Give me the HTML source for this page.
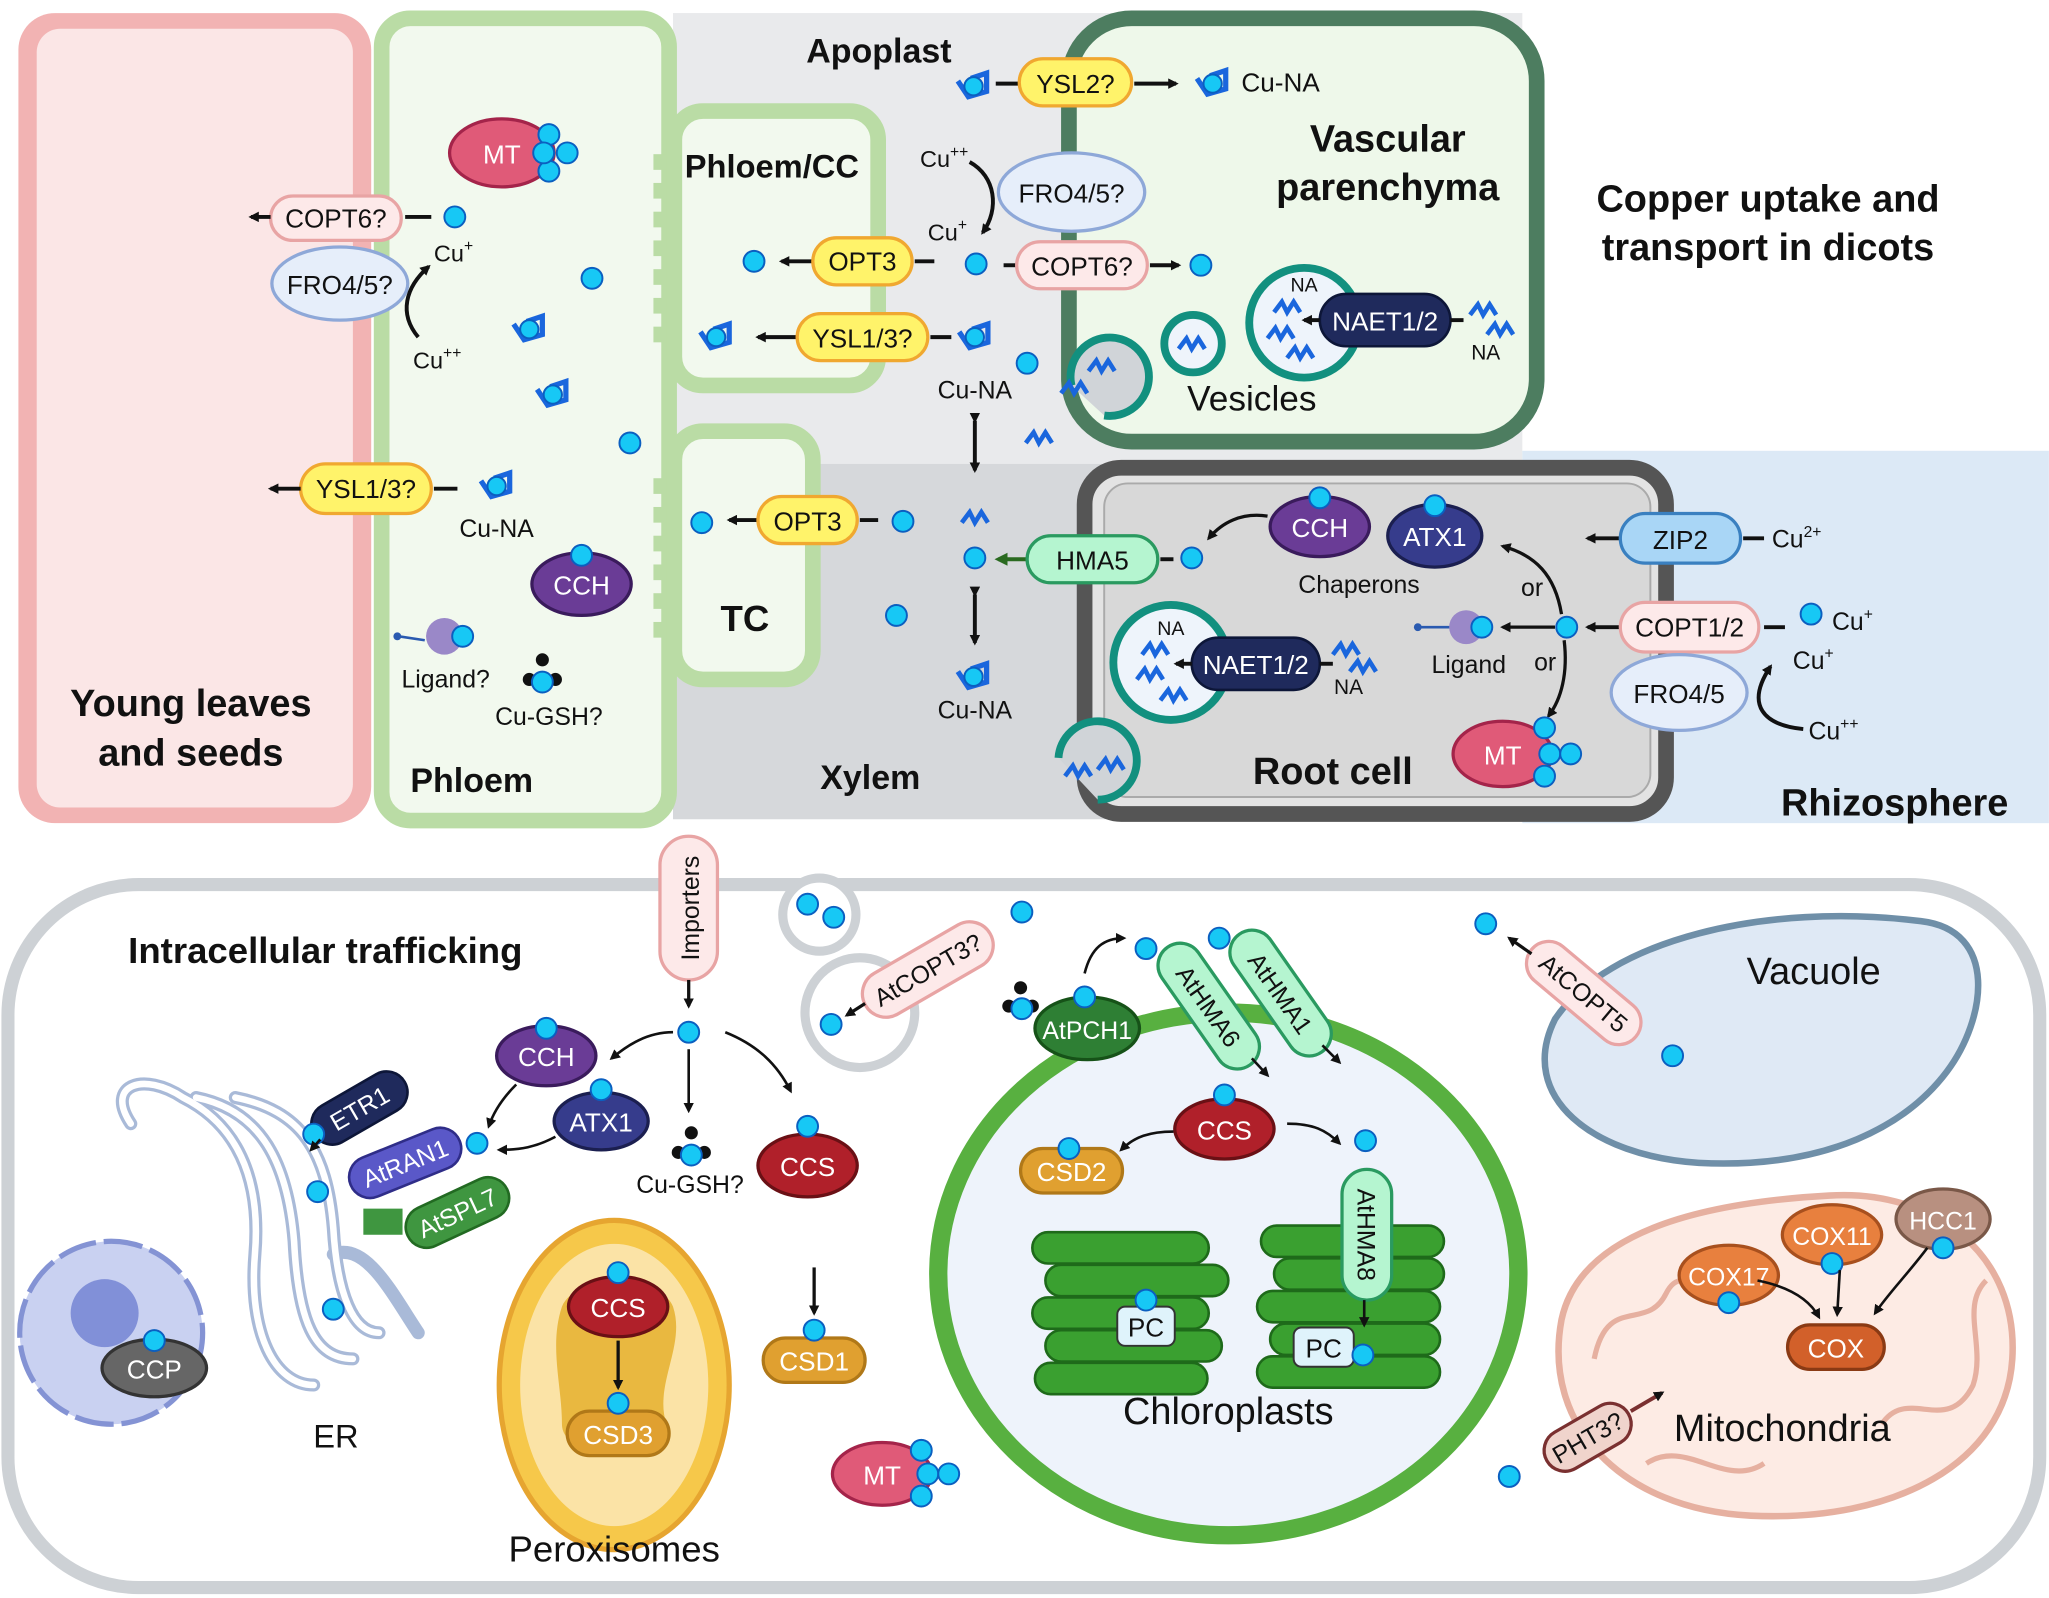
<!DOCTYPE html>
<html><head><meta charset="utf-8"><style>
html,body{margin:0;padding:0;background:#fff}
svg{display:block}
text{font-family:"Liberation Sans",Arial,sans-serif;fill:#111}
.b{font-weight:bold}
</style></head><body>
<svg width="2049" height="1598" viewBox="0 0 1568 1223" xmlns="http://www.w3.org/2000/svg">
<defs>
<marker id="ah" markerWidth="8" markerHeight="8" refX="6" refY="4" orient="auto" markerUnits="userSpaceOnUse"><path d="M0,0 L8,4 L0,8 z" fill="#111"/></marker>
<marker id="ahg" markerWidth="10" markerHeight="10" refX="7" refY="5" orient="auto" markerUnits="userSpaceOnUse"><path d="M0,0 L10,5 L0,10 z" fill="#2a6a20"/></marker>
<g id="cu"><circle r="8" fill="#17c8f5" stroke="#0b5fc0" stroke-width="1.5"/></g>
<g id="cuna"><path d="M-12,-4 L-4,8 L10,4 L10,-10 L-2,-6" fill="none" stroke="#1a66dd" stroke-width="4"/><circle cx="0" cy="0" r="7" fill="#17c8f5" stroke="#0b5fc0" stroke-width="1.5"/></g>
<g id="zz"><path d="M-10,4 L-4,-4 L0,4 L5,-4 L10,4" fill="none" stroke="#1a66dd" stroke-width="3.5"/></g>
</defs>

<!-- background regions -->
<rect x="515" y="10" width="650" height="345" fill="#e9eaec"/>
<rect x="515" y="355" width="650" height="272" fill="#d6d8db"/>
<rect x="1165" y="345" width="403" height="285" fill="#dce9f6"/>

<!-- young leaves -->
<rect x="14" y="10" width="270" height="620" rx="28" fill="#f2b3b3"/>
<rect x="28" y="22" width="242" height="596" rx="18" fill="#fbe6e6"/>
<text x="146" y="548" font-size="29" class="b" text-anchor="middle">Young leaves</text>
<text x="146" y="586" font-size="29" class="b" text-anchor="middle">and seeds</text>

<!-- phloem -->
<rect x="292" y="14" width="220" height="614" rx="22" fill="#f2f9ee" stroke="#badca5" stroke-width="12"/>
<g fill="#badca5"><rect x="500" y="118" width="20" height="12"/><rect x="500" y="140" width="20" height="12"/><rect x="500" y="162" width="20" height="12"/><rect x="500" y="184" width="20" height="12"/><rect x="500" y="206" width="20" height="12"/><rect x="500" y="228" width="20" height="12"/><rect x="500" y="250" width="20" height="12"/><rect x="500" y="366" width="20" height="12"/><rect x="500" y="388" width="20" height="12"/><rect x="500" y="410" width="20" height="12"/><rect x="500" y="432" width="20" height="12"/><rect x="500" y="454" width="20" height="12"/><rect x="500" y="476" width="20" height="12"/></g>
<text x="314" y="606" font-size="26" class="b">Phloem</text>
<!-- phloem/cc -->
<rect x="516" y="85" width="156" height="210" rx="22" fill="#f2f9ee" stroke="#badca5" stroke-width="12"/>
<text x="524" y="136" font-size="25" class="b">Phloem/CC</text>
<rect x="516" y="330" width="106" height="190" rx="22" fill="#f2f9ee" stroke="#badca5" stroke-width="12"/>
<text x="570" y="483" font-size="28" class="b" text-anchor="middle">TC</text>

<!-- vascular parenchyma -->
<rect x="818" y="14" width="358" height="324" rx="48" fill="#eef8ea" stroke="#4d7d60" stroke-width="12"/>
<text x="1062" y="116" font-size="29" class="b" text-anchor="middle">Vascular</text>
<text x="1062" y="153" font-size="29" class="b" text-anchor="middle">parenchyma</text>
<text x="617" y="48" font-size="26" class="b">Apoplast</text>
<text x="1353" y="162" font-size="29" class="b" text-anchor="middle">Copper uptake and</text>
<text x="1353" y="199" font-size="29" class="b" text-anchor="middle">transport in dicots</text>
<text x="666" y="604" font-size="26" class="b" text-anchor="middle">Xylem</text>
<text x="1450" y="624" font-size="29" class="b" text-anchor="middle">Rhizosphere</text>

<!-- root cell -->
<rect x="830" y="358" width="445" height="265" rx="28" fill="#e3e3e3" stroke="#555" stroke-width="12"/>
<rect x="845" y="370" width="418" height="240" rx="18" fill="#d8d8d8" stroke="#aaa" stroke-width="1.5"/>
<text x="1020" y="600" font-size="29" class="b" text-anchor="middle">Root cell</text>

<!-- vesicles in vascular parenchyma -->
<circle cx="998" cy="247" r="42" fill="#eef4fb" stroke="#12907f" stroke-width="6"/>
<circle cx="913" cy="263" r="22" fill="#eef4fb" stroke="#12907f" stroke-width="6"/>
<use href="#zz" x="912" y="263"/>
<path d="M820,295 A30,30 0 1 1 845,318" fill="#d0d4d8" stroke="#12907f" stroke-width="6"/>
<use href="#zz" x="843" y="280"/><use href="#zz" x="822" y="297"/>
<text x="958" y="314" font-size="27" text-anchor="middle">Vesicles</text>
<text x="998" y="223" font-size="15" text-anchor="middle">NA</text>
<use href="#zz" x="985" y="235"/><use href="#zz" x="980" y="255"/><use href="#zz" x="995" y="270"/>
<rect x="1010" y="225" width="100" height="40" rx="20" fill="#1f2a5c" stroke="#0d1638" stroke-width="2"/>
<text x="1060" y="253" font-size="20" text-anchor="middle" style="fill:#fff">NAET1/2</text>
<path d="M1010,245 L998,245" stroke="#111" stroke-width="3" marker-end="url(#ah)"/>
<line x1="1110" y1="245" x2="1120" y2="245" stroke="#111" stroke-width="3"/>
<use href="#zz" x="1135" y="237"/><use href="#zz" x="1148" y="252"/>
<text x="1137" y="275" font-size="16" text-anchor="middle">NA</text>

<!-- root cell vesicle -->
<circle cx="896" cy="507" r="44" fill="#eef4fb" stroke="#12907f" stroke-width="6"/>
<text x="896" y="486" font-size="15" text-anchor="middle">NA</text>
<use href="#zz" x="884" y="497"/><use href="#zz" x="880" y="516"/><use href="#zz" x="898" y="532"/>
<rect x="912" y="488" width="98" height="40" rx="20" fill="#1f2a5c" stroke="#0d1638" stroke-width="2"/>
<text x="961" y="516" font-size="20" text-anchor="middle" style="fill:#fff">NAET1/2</text>
<path d="M912,508 L900,508" stroke="#111" stroke-width="3" marker-end="url(#ah)"/>
<line x1="1010" y1="508" x2="1020" y2="508" stroke="#111" stroke-width="3"/>
<use href="#zz" x="1030" y="497"/><use href="#zz" x="1043" y="510"/>
<text x="1032" y="531" font-size="16" text-anchor="middle">NA</text>
<path d="M810,580 A30,30 0 1 1 840,612" fill="#d0d4d8" stroke="#12907f" stroke-width="6"/>
<use href="#zz" x="850" y="585"/><use href="#zz" x="825" y="590"/>

<!-- Left side young/phloem content -->
<rect x="207" y="150" width="100" height="34" rx="17" fill="#fde9e9" stroke="#e8a4a4" stroke-width="2.5"/>
<text x="257" y="174" font-size="20" text-anchor="middle">COPT6?</text>
<line x1="207" y1="166" x2="192" y2="166" stroke="#111" stroke-width="3" marker-end="url(#ah)"/>
<line x1="310" y1="166" x2="330" y2="166" stroke="#111" stroke-width="3"/>
<use href="#cu" x="348" y="166"/>
<ellipse cx="260" cy="217" rx="52" ry="28" fill="#e6eefa" stroke="#8ea8d8" stroke-width="2.5"/>
<text x="260" y="225" font-size="20" text-anchor="middle">FRO4/5?</text>
<text x="332" y="200" font-size="18">Cu<tspan dy="-8" font-size="12">+</tspan></text>
<text x="316" y="282" font-size="18">Cu<tspan dy="-8" font-size="12">++</tspan></text>
<path d="M320,258 C305,240 310,220 328,204" fill="none" stroke="#111" stroke-width="3" marker-end="url(#ah)"/>
<ellipse cx="384" cy="117" rx="40" ry="26" fill="#e05a78" stroke="#a4244a" stroke-width="2.5"/>
<text x="384" y="125" font-size="20" text-anchor="middle" style="fill:#fff">MT</text>
<use href="#cu" x="420" y="103"/><use href="#cu" x="434" y="117"/><use href="#cu" x="420" y="131"/><use href="#cu" x="416" y="117"/>
<use href="#cu" x="453" y="213"/><use href="#cuna" x="405" y="252"/><use href="#cuna" x="423" y="302"/><use href="#cu" x="482" y="339"/>
<rect x="230" y="355" width="100" height="38" rx="19" fill="#fff36a" stroke="#f0a830" stroke-width="2.5"/>
<text x="280" y="381" font-size="20" text-anchor="middle">YSL1/3?</text>
<line x1="230" y1="374" x2="207" y2="374" stroke="#111" stroke-width="3" marker-end="url(#ah)"/>
<line x1="332" y1="374" x2="350" y2="374" stroke="#111" stroke-width="3"/>
<use href="#cuna" x="380" y="372"/>
<text x="380" y="411" font-size="19" text-anchor="middle">Cu-NA</text>
<ellipse cx="445" cy="447" rx="38" ry="24" fill="#6a3c96" stroke="#3a1b5c" stroke-width="2.5"/>
<text x="445" y="455" font-size="20" text-anchor="middle" style="fill:#fff">CCH</text>
<use href="#cu" x="445" y="425"/>
<line x1="305" y1="487" x2="325" y2="490" stroke="#2a5ab0" stroke-width="2"/><circle cx="304" cy="487" r="3" fill="#2a5ab0"/>
<circle cx="340" cy="487" r="14" fill="#9a88c8"/><use href="#cu" x="354" y="487"/>
<text x="341" y="526" font-size="19" text-anchor="middle">Ligand?</text>
<g fill="#111"><circle cx="405" cy="520" r="5"/><circle cx="425" cy="520" r="5"/><circle cx="415" cy="505" r="5"/></g><use href="#cu" x="415" y="522"/>
<text x="420" y="555" font-size="19" text-anchor="middle">Cu-GSH?</text>

<!-- Phloem/CC region -->
<use href="#cu" x="577" y="200"/>
<line x1="622" y1="200" x2="598" y2="200" stroke="#111" stroke-width="3" marker-end="url(#ah)"/>
<rect x="622" y="182" width="76" height="36" rx="18" fill="#fff36a" stroke="#f0a830" stroke-width="2.5"/>
<text x="660" y="207" font-size="20" text-anchor="middle">OPT3</text>
<line x1="700" y1="200" x2="715" y2="200" stroke="#111" stroke-width="3"/>
<use href="#cu" x="747" y="202"/>
<use href="#cuna" x="548" y="258"/>
<line x1="610" y1="258" x2="580" y2="258" stroke="#111" stroke-width="3" marker-end="url(#ah)"/>
<rect x="610" y="240" width="100" height="36" rx="18" fill="#fff36a" stroke="#f0a830" stroke-width="2.5"/>
<text x="660" y="266" font-size="20" text-anchor="middle">YSL1/3?</text>
<line x1="712" y1="258" x2="728" y2="258" stroke="#111" stroke-width="3"/>
<use href="#cuna" x="746" y="258"/>
<use href="#cu" x="786" y="278"/>
<text x="746" y="305" font-size="19" text-anchor="middle">Cu-NA</text>
<path d="M746,322 L746,360" stroke="#111" stroke-width="3" marker-start="url(#ah)" marker-end="url(#ah)"/>
<use href="#zz" x="795" y="335"/>
<text x="704" y="128" font-size="18">Cu<tspan dy="-8" font-size="12">++</tspan></text>
<text x="710" y="184" font-size="18">Cu<tspan dy="-8" font-size="12">+</tspan></text>
<path d="M742,124 C762,135 765,160 752,178" fill="none" stroke="#111" stroke-width="3" marker-end="url(#ah)"/>
<ellipse cx="820" cy="147" rx="56" ry="30" fill="#e6eefa" stroke="#8ea8d8" stroke-width="2.5"/>
<text x="820" y="155" font-size="20" text-anchor="middle">FRO4/5?</text>
<line x1="768" y1="203" x2="778" y2="203" stroke="#111" stroke-width="3"/>
<rect x="778" y="185" width="100" height="36" rx="18" fill="#fde9e9" stroke="#e8a4a4" stroke-width="2.5"/>
<text x="828" y="211" font-size="20" text-anchor="middle">COPT6?</text>
<line x1="880" y1="203" x2="902" y2="203" stroke="#111" stroke-width="3" marker-end="url(#ah)"/>
<use href="#cu" x="919" y="203"/>
<use href="#cuna" x="745" y="66"/>
<line x1="762" y1="64" x2="780" y2="64" stroke="#111" stroke-width="3"/>
<rect x="780" y="45" width="86" height="36" rx="18" fill="#fff36a" stroke="#f0a830" stroke-width="2.5"/>
<text x="823" y="71" font-size="20" text-anchor="middle">YSL2?</text>
<line x1="868" y1="64" x2="900" y2="64" stroke="#111" stroke-width="3" marker-end="url(#ah)"/>
<use href="#cuna" x="928" y="64"/>
<text x="950" y="70" font-size="20">Cu-NA</text>

<!-- TC/xylem -->
<use href="#cu" x="537" y="400"/>
<line x1="580" y1="398" x2="558" y2="398" stroke="#111" stroke-width="3" marker-end="url(#ah)"/>
<rect x="580" y="380" width="76" height="36" rx="18" fill="#fff36a" stroke="#f0a830" stroke-width="2.5"/>
<text x="618" y="406" font-size="20" text-anchor="middle">OPT3</text>
<line x1="658" y1="398" x2="672" y2="398" stroke="#111" stroke-width="3"/>
<use href="#cu" x="691" y="399"/>
<use href="#zz" x="746" y="396"/>
<use href="#cu" x="746" y="427"/>
<line x1="786" y1="428" x2="764" y2="428" stroke="#2a6a20" stroke-width="3" marker-end="url(#ahg)"/>
<rect x="786" y="410" width="100" height="36" rx="18" fill="#b5f5d0" stroke="#2a9a60" stroke-width="2.5"/>
<text x="836" y="436" font-size="20" text-anchor="middle">HMA5</text>
<line x1="888" y1="428" x2="898" y2="428" stroke="#111" stroke-width="3"/>
<use href="#cu" x="912" y="427"/>
<use href="#cu" x="686" y="471"/>
<path d="M746,455 L746,492" stroke="#111" stroke-width="3" marker-start="url(#ah)" marker-end="url(#ah)"/>
<use href="#cuna" x="745" y="518"/>
<text x="746" y="550" font-size="19" text-anchor="middle">Cu-NA</text>

<!-- root cell contents -->
<ellipse cx="1010" cy="403" rx="38" ry="23" fill="#6a3c96" stroke="#3a1b5c" stroke-width="2.5"/>
<text x="1010" y="411" font-size="20" text-anchor="middle" style="fill:#fff">CCH</text><use href="#cu" x="1010" y="381"/>
<ellipse cx="1098" cy="410" rx="36" ry="24" fill="#363c8c" stroke="#1b1f50" stroke-width="2.5"/>
<text x="1098" y="418" font-size="20" text-anchor="middle" style="fill:#fff">ATX1</text><use href="#cu" x="1098" y="387"/>
<text x="1040" y="454" font-size="19" text-anchor="middle">Chaperons</text>
<path d="M970,395 C950,392 935,400 925,412" fill="none" stroke="#111" stroke-width="2.5" marker-end="url(#ah)"/>
<path d="M1195,470 C1190,440 1175,425 1150,418" fill="none" stroke="#111" stroke-width="2.5" marker-end="url(#ah)"/>
<text x="1164" y="456" font-size="19">or</text>
<use href="#cu" x="1199" y="480"/>
<path d="M1190,480 L1150,480" fill="none" stroke="#111" stroke-width="2.5" marker-end="url(#ah)"/>
<line x1="1085" y1="480" x2="1110" y2="480" stroke="#2a5ab0" stroke-width="2"/><circle cx="1085" cy="480" r="3" fill="#2a5ab0"/>
<circle cx="1122" cy="480" r="13" fill="#9a88c8"/><use href="#cu" x="1134" y="480"/>
<text x="1124" y="515" font-size="19" text-anchor="middle">Ligand</text>
<text x="1174" y="513" font-size="19">or</text>
<path d="M1197,490 C1200,515 1195,535 1185,548" fill="none" stroke="#111" stroke-width="2.5" marker-end="url(#ah)"/>
<ellipse cx="1150" cy="577" rx="38" ry="25" fill="#e05a78" stroke="#a4244a" stroke-width="2.5"/>
<text x="1150" y="585" font-size="20" text-anchor="middle" style="fill:#fff">MT</text>
<use href="#cu" x="1182" y="557"/><use href="#cu" x="1186" y="577"/><use href="#cu" x="1202" y="577"/><use href="#cu" x="1182" y="594"/>
<line x1="1240" y1="412" x2="1215" y2="412" stroke="#111" stroke-width="3" marker-end="url(#ah)"/>
<rect x="1240" y="393" width="92" height="38" rx="19" fill="#a9d6f6" stroke="#3a80c0" stroke-width="2.5"/>
<text x="1286" y="420" font-size="20" text-anchor="middle">ZIP2</text>
<line x1="1334" y1="412" x2="1350" y2="412" stroke="#111" stroke-width="3"/>
<text x="1356" y="419" font-size="19">Cu<tspan dy="-8" font-size="12">2+</tspan></text>
<line x1="1240" y1="480" x2="1215" y2="480" stroke="#111" stroke-width="3" marker-end="url(#ah)"/>
<rect x="1240" y="461" width="106" height="38" rx="19" fill="#fde9e9" stroke="#e8a4a4" stroke-width="2.5"/>
<text x="1293" y="487" font-size="20" text-anchor="middle">COPT1/2</text>
<line x1="1350" y1="480" x2="1366" y2="480" stroke="#111" stroke-width="3"/>
<use href="#cu" x="1386" y="470"/>
<text x="1402" y="482" font-size="19">Cu<tspan dy="-8" font-size="12">+</tspan></text>
<text x="1372" y="512" font-size="19">Cu<tspan dy="-8" font-size="12">+</tspan></text>
<ellipse cx="1285" cy="530" rx="52" ry="29" fill="#e6eefa" stroke="#8ea8d8" stroke-width="2.5"/>
<text x="1285" y="538" font-size="20" text-anchor="middle">FRO4/5</text>
<path d="M1380,558 C1350,555 1335,540 1355,510" fill="none" stroke="#111" stroke-width="3" marker-end="url(#ah)"/>
<text x="1384" y="566" font-size="19">Cu<tspan dy="-8" font-size="12">++</tspan></text>

<!-- bottom cell -->
<rect x="6" y="677" width="1555" height="538" rx="100" fill="#fff" stroke="#cdd1d5" stroke-width="10"/>
<text x="98" y="737" font-size="28" class="b">Intracellular trafficking</text>
<rect x="505" y="640" width="44" height="110" rx="22" fill="#fde9e9" stroke="#e8a4a4" stroke-width="2.5"/>
<text transform="translate(535,695) rotate(-90)" font-size="19" text-anchor="middle">Importers</text>
<line x1="527" y1="750" x2="527" y2="770" stroke="#111" stroke-width="2.5" marker-end="url(#ah)"/>
<use href="#cu" x="527" y="790"/>
<path d="M515,790 C495,790 480,800 468,810" fill="none" stroke="#111" stroke-width="2" marker-end="url(#ah)"/>
<line x1="527" y1="803" x2="527" y2="850" stroke="#111" stroke-width="2" marker-end="url(#ah)"/>
<path d="M555,790 C580,800 595,815 605,835" fill="none" stroke="#111" stroke-width="2" marker-end="url(#ah)"/>
<g fill="#111"><circle cx="519" cy="882" r="5"/><circle cx="539" cy="882" r="5"/><circle cx="529" cy="867" r="5"/></g><use href="#cu" x="529" y="884"/>
<text x="528" y="913" font-size="19" text-anchor="middle">Cu-GSH?</text>
<!-- vesicles at top -->
<circle cx="627" cy="700" r="28" fill="#fff" stroke="#cdd1d5" stroke-width="7"/>
<use href="#cu" x="618" y="692"/><use href="#cu" x="638" y="702"/>
<circle cx="658" cy="775" r="42" fill="#fff" stroke="#cdd1d5" stroke-width="7"/>
<use href="#cu" x="636" y="784"/>
<g transform="translate(710,742) rotate(-30)"><rect x="-55" y="-18" width="110" height="36" rx="18" fill="#fde9e9" stroke="#e8a4a4" stroke-width="2.5"/><text y="7" font-size="19" text-anchor="middle">AtCOPT3?</text></g>
<line x1="662" y1="768" x2="648" y2="777" stroke="#111" stroke-width="2.5" marker-end="url(#ah)"/>
<use href="#cu" x="782" y="698"/>
<!-- chaperones bottom -->
<ellipse cx="418" cy="808" rx="38" ry="23" fill="#6a3c96" stroke="#3a1b5c" stroke-width="2.5"/><text x="418" y="816" font-size="20" text-anchor="middle" style="fill:#fff">CCH</text><use href="#cu" x="418" y="787"/>
<ellipse cx="460" cy="858" rx="36" ry="22" fill="#363c8c" stroke="#1b1f50" stroke-width="2.5"/><text x="460" y="866" font-size="20" text-anchor="middle" style="fill:#fff">ATX1</text><use href="#cu" x="460" y="834"/>
<path d="M395,830 C385,840 378,850 374,862" fill="none" stroke="#111" stroke-width="2" marker-end="url(#ah)"/>
<path d="M425,870 C410,878 398,880 382,880" fill="none" stroke="#111" stroke-width="2" marker-end="url(#ah)"/>
<use href="#cu" x="365" y="875"/>
<ellipse cx="618" cy="892" rx="38" ry="24" fill="#b0202a" stroke="#6a1015" stroke-width="2.5"/><text x="618" y="900" font-size="20" text-anchor="middle" style="fill:#fff">CCS</text><use href="#cu" x="618" y="862"/>
<line x1="623" y1="970" x2="623" y2="1005" stroke="#111" stroke-width="2.5" marker-end="url(#ah)"/>
<rect x="584" y="1024" width="78" height="34" rx="17" fill="#e0a030" stroke="#b07818" stroke-width="2.5"/><text x="623" y="1049" font-size="20" text-anchor="middle" style="fill:#fff">CSD1</text><use href="#cu" x="623" y="1018"/>
<ellipse cx="675" cy="1128" rx="38" ry="24" fill="#e05a78" stroke="#a4244a" stroke-width="2.5"/><text x="675" y="1136" font-size="20" text-anchor="middle" style="fill:#fff">MT</text>
<use href="#cu" x="705" y="1110"/><use href="#cu" x="710" y="1128"/><use href="#cu" x="726" y="1128"/><use href="#cu" x="705" y="1145"/>

<!-- ER and nucleus -->
<g fill="none" stroke="#a9bad8" stroke-width="10" stroke-linecap="round">
<path d="M100,860 C80,830 110,820 140,840 C180,860 200,900 195,960 C190,1020 210,1060 240,1060"/>
<path d="M150,840 C200,850 220,890 225,950 C228,1010 240,1040 270,1040"/>
<path d="M180,840 C230,850 250,880 255,940 C258,990 270,1020 290,1020"/>
<path d="M255,960 C280,950 300,990 320,1020"/>
</g>
<g fill="none" stroke="#fff" stroke-width="5" stroke-linecap="round">
<path d="M100,860 C80,830 110,820 140,840 C180,860 200,900 195,960 C190,1020 210,1060 240,1060"/>
<path d="M150,840 C200,850 220,890 225,950 C228,1010 240,1040 270,1040"/>
<path d="M180,840 C230,850 250,880 255,940 C258,990 270,1020 290,1020"/>
</g>
<circle cx="85" cy="1020" r="70" fill="#c9d1f1" stroke="#8493d4" stroke-width="4" stroke-dasharray="30 6"/>
<circle cx="80" cy="1005" r="26" fill="#8190d8"/>
<ellipse cx="118" cy="1047" rx="40" ry="22" fill="#666" stroke="#333" stroke-width="2.5"/><text x="118" y="1055" font-size="20" text-anchor="middle" style="fill:#fff">CCP</text><use href="#cu" x="118" y="1026"/>
<text x="257" y="1108" font-size="25" text-anchor="middle">ER</text>
<use href="#cu" x="255" y="1002"/>
<g transform="translate(275,848) rotate(-30)"><rect x="-40" y="-16" width="80" height="32" rx="16" fill="#1f2a5c" stroke="#0d1638" stroke-width="2"/><text y="7" font-size="19" text-anchor="middle" style="fill:#fff">ETR1</text></g>
<g transform="translate(310,890) rotate(-22)"><rect x="-45" y="-16" width="90" height="32" rx="16" fill="#5a58c8" stroke="#2f2d88" stroke-width="2"/><text y="7" font-size="19" text-anchor="middle" style="fill:#fff">AtRAN1</text></g>
<g transform="translate(350,928) rotate(-25)"><rect x="-42" y="-16" width="84" height="32" rx="16" fill="#3f9640" stroke="#226a22" stroke-width="2"/><text y="7" font-size="19" text-anchor="middle" style="fill:#fff">AtSPL7</text></g>
<rect x="278" y="925" width="30" height="20" fill="#3f9640"/>
<use href="#cu" x="240" y="868"/><use href="#cu" x="243" y="912"/>
<path d="M245,872 L238,880" stroke="#111" stroke-width="2" marker-end="url(#ah)"/>

<!-- peroxisome -->
<ellipse cx="470" cy="1060" rx="88" ry="126" fill="#f6c84a" stroke="#e6a530" stroke-width="4"/>
<ellipse cx="470" cy="1060" rx="72" ry="108" fill="#fbe3a6"/>
<path d="M430,1000 C440,975 505,975 515,1000 C525,1030 500,1060 510,1090 C515,1120 430,1120 430,1090 C430,1060 420,1030 430,1000z" fill="#e9b840"/>
<ellipse cx="473" cy="1000" rx="38" ry="23" fill="#b0202a" stroke="#6a1015" stroke-width="2.5"/><text x="473" y="1008" font-size="20" text-anchor="middle" style="fill:#fff">CCS</text><use href="#cu" x="473" y="974"/>
<line x1="473" y1="1026" x2="473" y2="1062" stroke="#111" stroke-width="2.5" marker-end="url(#ah)"/>
<rect x="434" y="1080" width="78" height="34" rx="17" fill="#e0a030" stroke="#b07818" stroke-width="2.5"/><text x="473" y="1105" font-size="20" text-anchor="middle" style="fill:#fff">CSD3</text><use href="#cu" x="473" y="1074"/>
<text x="470" y="1195" font-size="28" text-anchor="middle">Peroxisomes</text>

<!-- chloroplast -->
<ellipse cx="940" cy="975" rx="222" ry="200" fill="#eef3fb" stroke="#58b040" stroke-width="14"/>
<g fill="#3aa030" stroke="#1e6a1a" stroke-width="2">
<rect x="790" y="943" width="135" height="24" rx="12"/><rect x="800" y="968" width="140" height="24" rx="12"/><rect x="790" y="993" width="135" height="24" rx="12"/><rect x="800" y="1018" width="135" height="24" rx="12"/><rect x="792" y="1043" width="132" height="24" rx="12"/>
<rect x="965" y="938" width="140" height="24" rx="12"/><rect x="975" y="963" width="130" height="24" rx="12"/><rect x="962" y="988" width="140" height="24" rx="12"/><rect x="972" y="1013" width="130" height="24" rx="12"/><rect x="962" y="1038" width="140" height="24" rx="12"/>
</g>
<rect x="855" y="1000" width="44" height="30" rx="6" fill="#dff3fb" stroke="#333" stroke-width="1.5"/><text x="877" y="1023" font-size="20" text-anchor="middle">PC</text><use href="#cu" x="877" y="995"/>
<rect x="990" y="1016" width="46" height="30" rx="6" fill="#dff3fb" stroke="#333" stroke-width="1.5"/><text x="1013" y="1039" font-size="20" text-anchor="middle">PC</text><use href="#cu" x="1043" y="1037"/>
<ellipse cx="937" cy="864" rx="38" ry="23" fill="#b0202a" stroke="#6a1015" stroke-width="2.5"/><text x="937" y="872" font-size="20" text-anchor="middle" style="fill:#fff">CCS</text><use href="#cu" x="937" y="838"/>
<rect x="781" y="879" width="78" height="34" rx="17" fill="#e0a030" stroke="#b07818" stroke-width="2.5"/><text x="820" y="904" font-size="20" text-anchor="middle" style="fill:#fff">CSD2</text><use href="#cu" x="818" y="879"/>
<path d="M898,866 C880,866 868,870 858,880" fill="none" stroke="#111" stroke-width="2" marker-end="url(#ah)"/>
<path d="M985,860 C1005,860 1015,865 1025,875" fill="none" stroke="#111" stroke-width="2" marker-end="url(#ah)"/>
<use href="#cu" x="1045" y="873"/>
<rect x="1027" y="895" width="38" height="100" rx="19" fill="#b5f5d0" stroke="#2a9a60" stroke-width="2.5"/>
<text transform="translate(1039,945) rotate(90)" font-size="19" text-anchor="middle">AtHMA8</text>
<line x1="1044" y1="995" x2="1044" y2="1014" stroke="#111" stroke-width="2" marker-end="url(#ah)"/>
<text x="940" y="1090" font-size="29" text-anchor="middle">Chloroplasts</text>
<ellipse cx="832" cy="787" rx="40" ry="24" fill="#2e7f34" stroke="#165218" stroke-width="2.5"/><text x="832" y="795" font-size="19" text-anchor="middle" style="fill:#fff">AtPCH1</text><use href="#cu" x="830" y="763"/>
<g fill="#111"><circle cx="772" cy="770" r="5"/><circle cx="790" cy="770" r="5"/><circle cx="781" cy="756" r="5"/></g><use href="#cu" x="782" y="772"/>
<path d="M830,745 C835,725 845,718 860,718" fill="none" stroke="#111" stroke-width="2" marker-end="url(#ah)"/>
<g transform="translate(925,770) rotate(55)"><rect x="-55" y="-17" width="110" height="34" rx="17" fill="#b5f5d0" stroke="#2a9a60" stroke-width="2.5"/><text y="7" font-size="19" text-anchor="middle">AtHMA6</text></g>
<g transform="translate(980,760) rotate(55)"><rect x="-55" y="-17" width="110" height="34" rx="17" fill="#b5f5d0" stroke="#2a9a60" stroke-width="2.5"/><text y="7" font-size="19" text-anchor="middle">AtHMA1</text></g>
<use href="#cu" x="877" y="726"/><use href="#cu" x="933" y="718"/>
<line x1="958" y1="810" x2="970" y2="823" stroke="#111" stroke-width="2" marker-end="url(#ah)"/>
<line x1="1012" y1="800" x2="1025" y2="813" stroke="#111" stroke-width="2" marker-end="url(#ah)"/>

<!-- vacuole -->
<path d="M1190,780 C1230,720 1350,690 1470,705 C1530,712 1520,780 1490,820 C1460,860 1400,895 1300,890 C1220,885 1160,840 1190,780z" fill="#dfe9f5" stroke="#6f8fa8" stroke-width="5"/>
<text x="1388" y="753" font-size="29" text-anchor="middle">Vacuole</text>
<g transform="translate(1212,760) rotate(40)"><rect x="-52" y="-17" width="104" height="34" rx="17" fill="#fde9e9" stroke="#e8a4a4" stroke-width="2.5"/><text y="7" font-size="19" text-anchor="middle">AtCOPT5</text></g>
<use href="#cu" x="1137" y="707"/><use href="#cu" x="1280" y="808"/>
<line x1="1172" y1="730" x2="1155" y2="718" stroke="#111" stroke-width="2.5" marker-end="url(#ah)"/>

<!-- mitochondria -->
<path d="M1195,1010 C1210,940 1310,920 1400,915 C1480,910 1545,960 1540,1040 C1535,1120 1450,1165 1340,1160 C1240,1155 1180,1090 1195,1010z" fill="#fdebe4" stroke="#e6b0a0" stroke-width="5"/>
<path d="M1220,1040 C1230,990 1260,1020 1275,990 C1290,960 1310,1010 1330,990 M1440,1090 C1460,1060 1490,1100 1510,1060 C1520,1030 1500,1000 1520,980 M1260,1120 C1290,1100 1320,1140 1350,1120" fill="none" stroke="#e6b0a0" stroke-width="4"/>
<text x="1364" y="1103" font-size="29" text-anchor="middle">Mitochondria</text>
<ellipse cx="1323" cy="976" rx="38" ry="23" fill="#e8803e" stroke="#a8501e" stroke-width="2.5"/><text x="1323" y="984" font-size="19" text-anchor="middle" style="fill:#fff">COX17</text><use href="#cu" x="1323" y="997"/>
<ellipse cx="1402" cy="945" rx="38" ry="23" fill="#e8803e" stroke="#a8501e" stroke-width="2.5"/><text x="1402" y="953" font-size="19" text-anchor="middle" style="fill:#fff">COX11</text><use href="#cu" x="1402" y="967"/>
<ellipse cx="1487" cy="933" rx="36" ry="23" fill="#b89080" stroke="#7a5848" stroke-width="2.5"/><text x="1487" y="941" font-size="19" text-anchor="middle" style="fill:#fff">HCC1</text><use href="#cu" x="1487" y="955"/>
<rect x="1368" y="1014" width="74" height="34" rx="17" fill="#d2602a" stroke="#8a3a14" stroke-width="2.5"/><text x="1405" y="1039" font-size="20" text-anchor="middle" style="fill:#fff">COX</text>
<path d="M1345,980 C1370,985 1385,995 1392,1008" fill="none" stroke="#111" stroke-width="2" marker-end="url(#ah)"/>
<line x1="1408" y1="972" x2="1406" y2="1006" stroke="#111" stroke-width="2" marker-end="url(#ah)"/>
<path d="M1475,955 C1460,975 1445,990 1435,1005" fill="none" stroke="#111" stroke-width="2" marker-end="url(#ah)"/>
<g transform="translate(1215,1100) rotate(-30)"><rect x="-36" y="-16" width="72" height="32" rx="16" fill="#f0d4cc" stroke="#7a3030" stroke-width="2.5"/><text y="7" font-size="19" text-anchor="middle">PHT3?</text></g>
<line x1="1248" y1="1080" x2="1272" y2="1066" stroke="#7a3030" stroke-width="3" marker-end="url(#ah)"/>
<use href="#cu" x="1155" y="1130"/>
</svg>
</body></html>
